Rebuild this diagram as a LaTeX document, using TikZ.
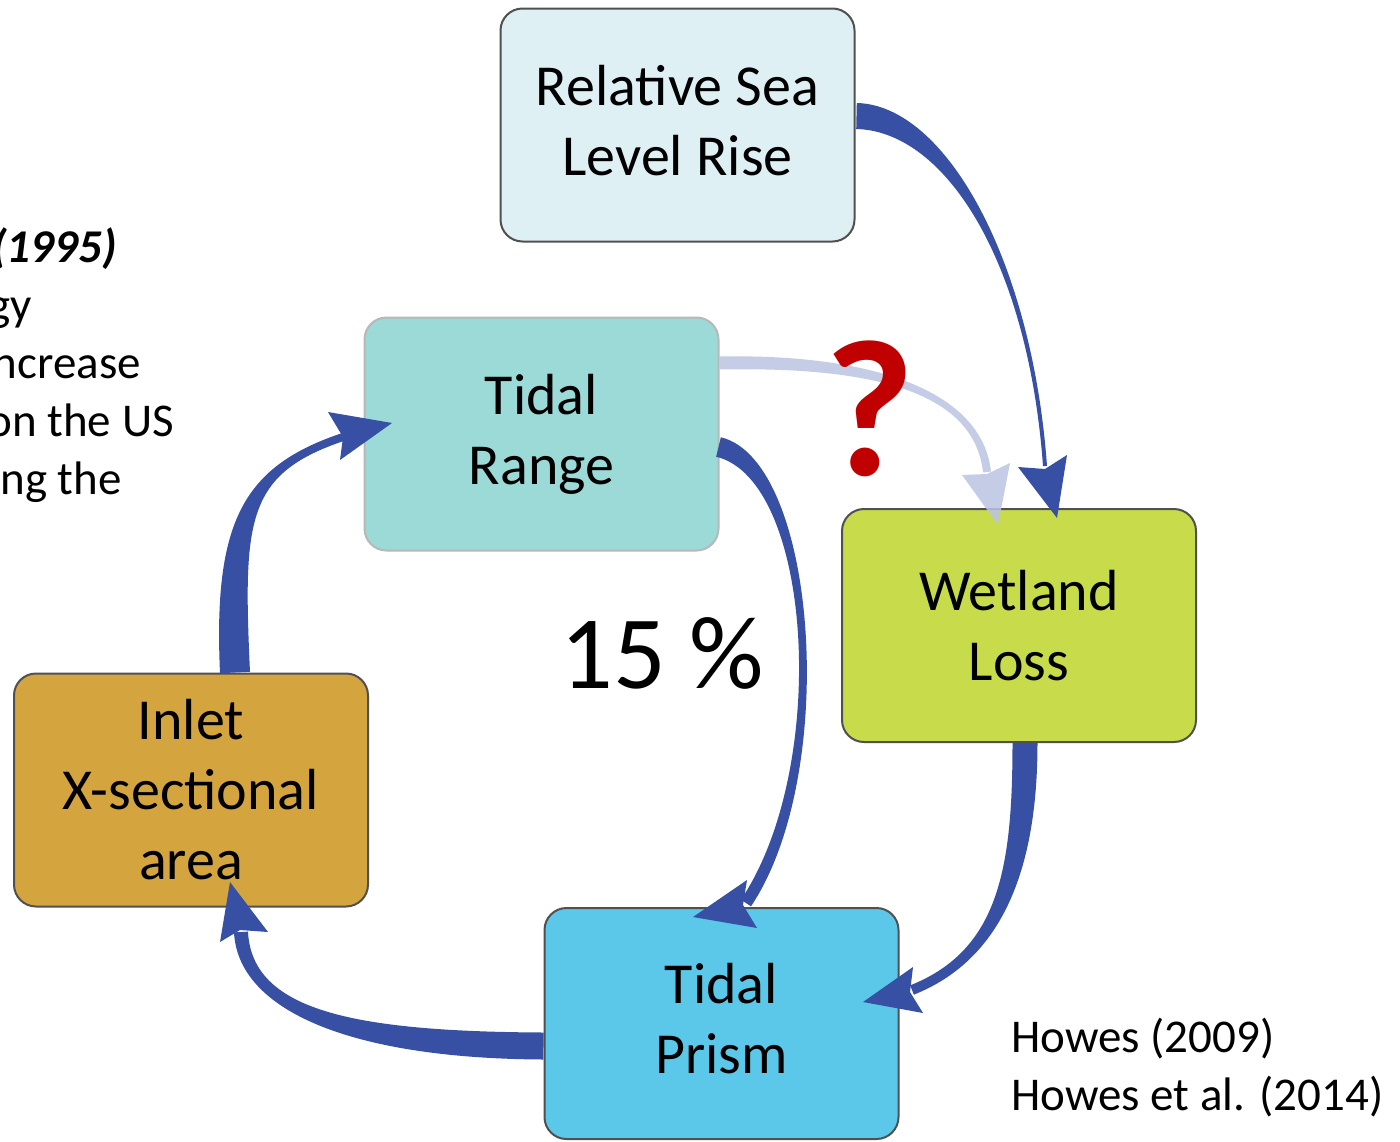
\documentclass[tikz,border=0pt]{standalone}
\usepackage{fontspec}
\setmainfont{Carlito}
\usetikzlibrary{calc}

\definecolor{flowblue}{HTML}{3750A4}
\definecolor{flowpale}{HTML}{BCC4E1}
\definecolor{qred}{HTML}{C00000}
\definecolor{rslrfill}{HTML}{DEF0F4}
\definecolor{rangefill}{HTML}{9BDAD6}
\definecolor{wetfill}{HTML}{C8DC4B}
\definecolor{inletfill}{HTML}{D4A53F}
\definecolor{prismfill}{HTML}{5BC8E9}
\definecolor{edge}{HTML}{505050}

% tapered band along a cubic curve: style, P0, P1, P2, P3, half width at start, half width at end
\newcommand\taperband[7]{%
  \fill[#1] ($(#2)!#6!90:(#3)$)
    .. controls ($(#3)!#6!-90:(#2)$) and ($(#4)!#7!90:(#5)$) .. ($(#5)!#7!-90:(#4)$)
    -- ($(#5)!#7!90:(#4)$)
    .. controls ($(#4)!#7!-90:(#5)$) and ($(#3)!#6!90:(#2)$) .. ($(#2)!#6!-90:(#3)$)
    -- cycle;}
% arrow head: style, tip, corner, notch, corner
\newcommand\headtip[5]{\fill[#1] (#2) -- (#3) -- (#4) -- (#5) -- cycle;}

\tikzset{
  stage/.style={rectangle, rounded corners=22pt, minimum width=354pt,
    minimum height=233pt, inner sep=0pt, align=center, line width=2pt,
    draw=edge, font=\fontsize{58}{70}\selectfont},
  note/.style={anchor=base west, inner sep=0pt, font=\fontsize{47}{58}\selectfont},
  cut/.style={anchor=base east, inner sep=0pt, font=\fontsize{47}{58}\selectfont},
  flow/.style={fill=flowblue},
  paleflow/.style={fill=flowpale, fill opacity=0.85},
}

\begin{document}
\begin{tikzpicture}[x=1pt, y=-1pt]
\useasboundingbox (0,0) rectangle (1400,1141);
\begin{scope}
\clip (0,0) rectangle (1400,1141);
\fill[white] (0,0) rectangle (1400,1141);

% partly visible text on the left
\node[cut, font=\bfseries\itshape\fontsize{47}{58}\selectfont] (l1) at (117,262) {(1995)};
\node[cut] (l2) at (32,320) {gy};
\node[cut] (l3) at (141,378) {ncrease};
\node[cut] (l4) at (174,436) {on the US};
\node[cut] (l5) at (122,494) {ng the};

% stages of the feedback loop
\node[stage, fill=rslrfill, text depth=10pt] (rslr) at (677.5,125) {Relative Sea\\Level Rise};
\node[stage, fill=rangefill, draw=black!28] (rng) at (541.5,434) {Tidal\\Range};
\node[stage, fill=wetfill] (wet) at (1019,625.5) {Wetland\\Loss};
\node[stage, fill=inletfill] (inlet) at (191,790) {Inlet\\X-sectional\\area};
\node[stage, fill=prismfill, minimum height=231pt, text depth=10pt] (prism) at (721.5,1023.5) {Tidal\\Prism};

% curve control points
\coordinate (a1s) at ($(rslr.east)+(1,-9)$);
\coordinate (a1p) at (945,118);
\coordinate (a1q) at (1030,260);
\coordinate (a1e) at (1045,466);

\coordinate (a2s) at ($(rng.east)+(0,-71)$);
\coordinate (a2p) at (870,360);
\coordinate (a2q) at (978,390);
\coordinate (a2e) at (987,472);

\coordinate (a3s) at ($(rng.east)+(-1,13)$);
\coordinate (a3p) at (815,470);
\coordinate (a3q) at (835,770);
\coordinate (a3e) at (746,903);

\coordinate (a4s) at ($(wet.south)+(6,0)$);
\coordinate (a4p) at (1025,870);
\coordinate (a4q) at (1000,955);
\coordinate (a4e) at (912,990);

\coordinate (a5s) at ($(prism.west)+(0,22.5)$);
\coordinate (a5p) at (350,1045);
\coordinate (a5q) at (245,1010);
\coordinate (a5e) at (241,932);

\coordinate (a6s) at ($(inlet.north)+(44,0)$);
\coordinate (a6p) at (228,520);
\coordinate (a6q) at (245,470);
\coordinate (a6e) at (343,437);

% arrow heads
\coordinate (h1t) at (1057,518); \coordinate (h1a) at (1018,467); \coordinate (h1n) at (1045,469); \coordinate (h1b) at (1067,455);
\coordinate (h2t) at (998,525);  \coordinate (h2a) at (962,475);  \coordinate (h2n) at (987,474);  \coordinate (h2b) at (1010,463);
\coordinate (h3t) at (693,917);  \coordinate (h3a) at (747,880);  \coordinate (h3n) at (743,905);  \coordinate (h3b) at (757,928);
\coordinate (h4t) at (863,1002); \coordinate (h4a) at (913,967);  \coordinate (h4n) at (910,992);  \coordinate (h4b) at (923,1013);
\coordinate (h5t) at (230,882);  \coordinate (h5a) at (220,942);  \coordinate (h5n) at (240,930);  \coordinate (h5b) at (268,932);
\coordinate (h6t) at (392,423);  \coordinate (h6a) at (328,412);  \coordinate (h6n) at (343,437);  \coordinate (h6b) at (340,460);

% uncertain link: tidal range -> wetland loss
\taperband{paleflow}{a2s}{a2p}{a2q}{a2e}{6.5pt}{4pt}
\headtip{paleflow}{h2t}{h2a}{h2n}{h2b}

% sea level rise -> wetland loss
\taperband{flow}{a1s}{a1p}{a1q}{a1e}{13pt}{2pt}
\headtip{flow}{h1t}{h1a}{h1n}{h1b}

% tidal range -> tidal prism
\taperband{flow}{a3s}{a3p}{a3q}{a3e}{10pt}{6pt}
\headtip{flow}{h3t}{h3a}{h3n}{h3b}

% wetland loss -> tidal prism
\taperband{flow}{a4s}{a4p}{a4q}{a4e}{12.5pt}{5pt}
\headtip{flow}{h4t}{h4a}{h4n}{h4b}

% tidal prism -> inlet cross-section
\taperband{flow}{a5s}{a5p}{a5q}{a5e}{13.5pt}{7pt}
\headtip{flow}{h5t}{h5a}{h5n}{h5b}

% inlet cross-section -> tidal range
\taperband{flow}{a6s}{a6p}{a6q}{a6e}{15pt}{4pt}
\headtip{flow}{h6t}{h6a}{h6n}{h6b}

% labels
\node[anchor=base, inner sep=0pt, font=\fontsize{104}{124}\selectfont] (pct) at (662,688) {15 \%};
\node[anchor=base, inner sep=0pt, text=qred, font=\bfseries\fontsize{195}{230}\selectfont] (qm) at (870,475) {?};
\node[note] (ref1) at (1011,1052) {Howes (2009)};
\node[note] (ref2) at (1011,1110) {Howes et al. (2014)};
\end{scope}
\end{tikzpicture}
\end{document}
